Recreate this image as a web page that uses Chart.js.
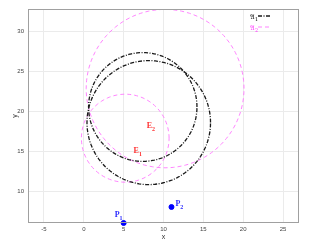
<!DOCTYPE html>
<html>
<head>
<meta charset="utf-8">
<script src="https://cdn.jsdelivr.net/npm/chart.js@4/dist/chart.umd.min.js"></script>
<style>
  html, body { margin: 0; padding: 0; background: #fff; }
  #wrap { width: 314px; height: 244px; }
</style>
</head>
<body>
<div id="wrap"><canvas id="chart" width="314" height="244"></canvas></div>
<script>
// circles: centre x, centre y, radius (data units), and which family they belong to
const circleCx = [8.15, 7.4, 10.2, 5.2];
const circleCy = [18.55, 20.5, 22.8, 16.6];
const circleR = [7.75, 6.8, 9.9, 5.5];
const circleSet = ['A1', 'A1', 'A2', 'A2'];

// the two points
const pointNames = ['1', '2'];
const pointX = [5, 11];
const pointY = [6, 8];

// the E labels (no marker, only text)
const eNames = ['1', '2'];
const eX = [6.25, 7.9];
const eY = [14.75, 17.9];

const xTicks = [-5, 0, 5, 10, 15, 20, 25];
const yTicks = [10, 15, 20, 25, 30];

const styles = {
    A1: { color: '#1a1a1a', dash: [4, 1.5, 1, 1.5], width: 1.3 },
    A2: { color: '#ff77ff', dash: [4, 3], width: 0.9 }
};

function circlePoints(cx, cy, r) {
    const pts = [];
    for (let a = 0; a <= 360; a += 3) {
        const t = a * Math.PI / 180;
        pts.push({ x: cx + r * Math.cos(t), y: cy + r * Math.sin(t) });
    }
    return pts;
}

const datasets = circleCx.map((cx, i) => ({
    label: circleSet[i],
    data: circlePoints(cx, circleCy[i], circleR[i]),
    showLine: true,
    borderColor: styles[circleSet[i]].color,
    borderDash: styles[circleSet[i]].dash,
    borderWidth: styles[circleSet[i]].width,
    pointRadius: 0,
    fill: false
}));

datasets.push({
    label: 'P',
    data: pointX.map((x, i) => ({ x: x, y: pointY[i] })),
    pointRadius: 2.5,
    pointBackgroundColor: '#0000ff',
    pointBorderColor: '#0000ff',
    showLine: false,
    clip: false
});

function subText(ctx, x, y, main, sub, color, size) {
    ctx.fillStyle = color;
    ctx.font = 'bold ' + size + 'px "Liberation Serif", "DejaVu Serif", serif';
    ctx.textAlign = 'left';
    ctx.textBaseline = 'alphabetic';
    ctx.fillText(main, x, y);
    const w = ctx.measureText(main).width;
    ctx.font = 'bold ' + (size * 0.75) + 'px "Liberation Serif", "DejaVu Serif", serif';
    ctx.fillText(sub, x + w, y + 3);
}

const extras = {
    id: 'extras',
    afterDatasetsDraw(chart) {
        const ctx = chart.ctx;
        const xs = chart.scales.x, ys = chart.scales.y;
        const a = chart.chartArea;
        ctx.save();
        // box
        ctx.strokeStyle = '#a0a0a0';
        ctx.lineWidth = 1;
        ctx.strokeRect(a.left + 0.5, a.top + 0.5, a.right - a.left - 1, a.bottom - a.top - 1);

        // E labels
        eNames.forEach((n, i) => {
            subText(ctx, xs.getPixelForValue(eX[i]), ys.getPixelForValue(eY[i]), 'E', n, '#ff3030', 8);
        });
        // P labels
        pointNames.forEach((n, i) => {
            const px = xs.getPixelForValue(pointX[i]);
            const py = ys.getPixelForValue(pointY[i]);
            if (i === 0) subText(ctx, px - 9, py - 6, 'P', n, '#2a2aff', 8);
            else subText(ctx, px + 4, py - 1, 'P', n, '#2a2aff', 8);
        });

        // legend
        const lx = a.right - 49, ly = a.top + 10;
        ['A1', 'A2'].forEach((k, i) => {
            const y = ly + i * 11;
            const col = i === 0 ? '#000' : '#ff33ff';
            ctx.fillStyle = col;
            ctx.font = '7px "DejaVu Serif", serif';
            ctx.textAlign = 'left';
            ctx.textBaseline = 'alphabetic';
            ctx.fillText('\u{1D504}', lx, y);
            const w = ctx.measureText('\u{1D504}').width;
            ctx.font = '5px "DejaVu Serif", serif';
            ctx.fillText(String(i + 1), lx + w, y + 2);
            ctx.beginPath();
            ctx.setLineDash(styles[k].dash);
            ctx.strokeStyle = styles[k].color;
            ctx.lineWidth = styles[k].width;
            ctx.moveTo(lx + 8, y - 3);
            ctx.lineTo(lx + 20, y - 3);
            ctx.stroke();
        });
        ctx.restore();
    }
};

new Chart(document.getElementById('chart').getContext('2d'), {
    type: 'scatter',
    data: { datasets: datasets },
    options: {
        responsive: false,
        animation: false,
        layout: { padding: { top: 9, right: 15, left: 0, bottom: 0 } },
        plugins: { legend: { display: false }, tooltip: { enabled: false } },
        scales: {
            x: {
                type: 'linear',
                min: -7,
                max: 27,
                afterFit: s => { s.height = 21; },
                afterBuildTicks: s => { s.ticks = xTicks.map(v => ({ value: v })); },
                grid: { color: '#ebebeb', drawTicks: false },
                border: { display: false },
                ticks: { padding: 3, color: '#444', font: { size: 6, family: 'Liberation Sans, Arial, sans-serif' } },
                title: { display: true, text: 'x', color: '#333', padding: { top: 0, bottom: 3 }, font: { size: 7, family: 'Liberation Sans, Arial, sans-serif' } }
            },
            y: {
                type: 'linear',
                min: 6,
                max: 32.75,
                afterFit: s => { s.width = 28; },
                afterBuildTicks: s => { s.ticks = yTicks.map(v => ({ value: v })); },
                grid: { color: '#ebebeb', drawTicks: false },
                border: { display: false },
                ticks: { padding: 4, color: '#444', font: { size: 6, family: 'Liberation Sans, Arial, sans-serif' } },
                title: { display: true, text: 'y', color: '#333', padding: { top: 11, bottom: 0 }, font: { size: 7, family: 'Liberation Sans, Arial, sans-serif' } }
            }
        }
    },
    plugins: [extras]
});
</script>
</body>
</html>
